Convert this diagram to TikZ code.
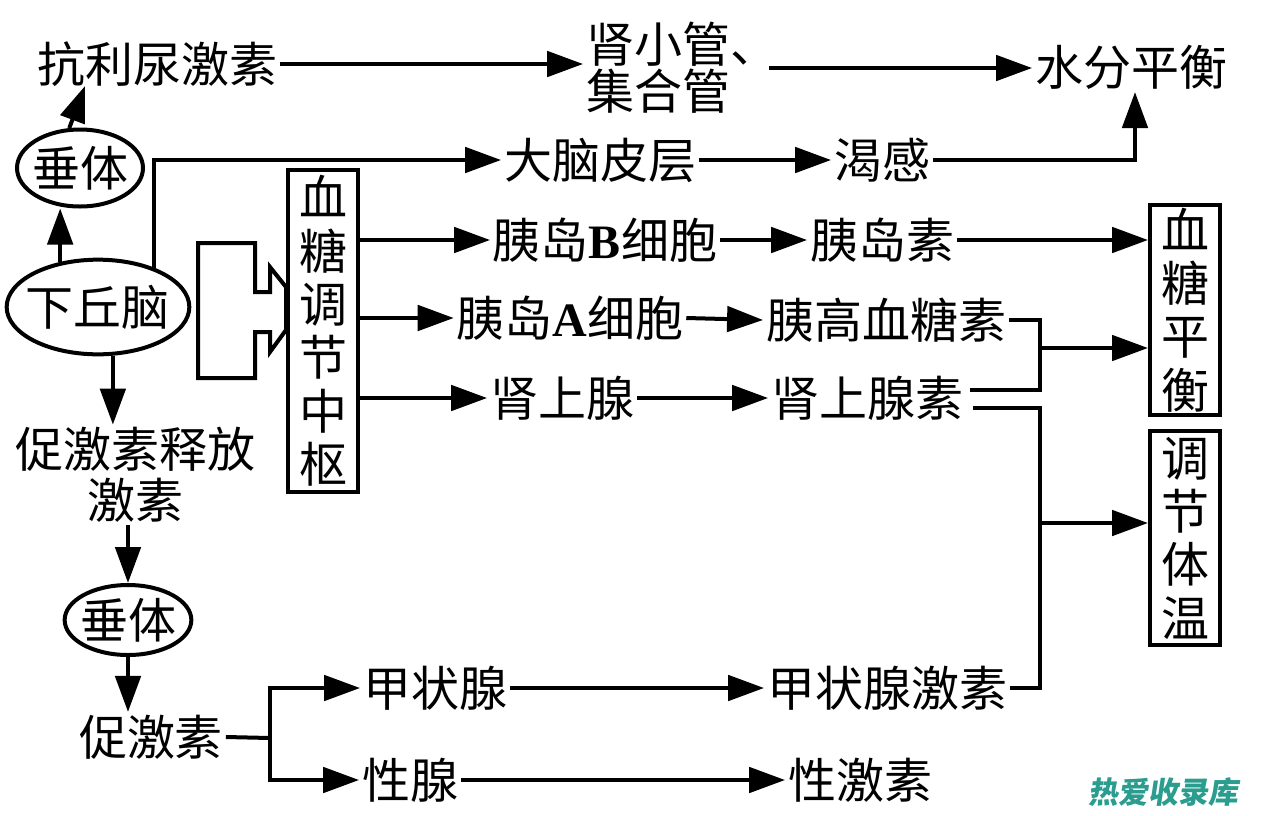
\documentclass[tikz,border=0pt]{standalone}
\usepackage{fontspec}
\setmainfont{Noto Sans CJK SC}
\newfontfamily\latb{Liberation Serif}
\usetikzlibrary{arrows.meta,shapes.geometric,calc}
\definecolor{wm}{HTML}{2A9D8F}
\tikzset{
  lbl/.style={inner sep=2pt, font=\fontsize{36}{42}\selectfont},
  ln/.style={line width=3pt},
  arr/.style={line width=3pt, -{Triangle[length=27pt,width=19pt]}},
  ell/.style={ellipse, draw, line width=3pt, inner sep=0pt},
  vbox/.style={draw, line width=3pt, minimum width=52.5pt, align=center, inner sep=0pt, font=\fontsize{36}{40}\selectfont},
}
\begin{document}
\begin{tikzpicture}[x=0.75pt,y=-0.75pt]
\useasboundingbox[fill=white] (0,0) rectangle (1268,815);
% nodes
\node[lbl] (adh) at (157,64) {抗利尿激素};
\node[lbl, align=left, font=\fontsize{36}{35}\selectfont] (kid) at (682,68) {肾小管、\\集合管};
\node[lbl] (water) at (1131,67) {水分平衡};
\node[ell, minimum width=94.5pt, minimum height=57.75pt] (pit1) at (80,168) {};
\node[lbl] (pit1t) at (pit1) {垂体};
\node[ell, minimum width=137pt, minimum height=71pt] (hyp) at (98,307) {};
\node[lbl] (hypt) at (hyp) {下丘脑};
\node[lbl] (cortex) at (600,160) {大脑皮层};
\node[lbl] (thirst) at (882,160) {渴感};
\node[vbox, minimum height=241.5pt] (ctr) at (323,331) {血\\糖\\调\\节\\中\\枢};
\node[lbl] (bcell) at (605,240) {胰岛{\latb\bfseries B}细胞};
\node[lbl] (insulin) at (882,240) {胰岛素};
\node[lbl] (acell) at (570,318) {胰岛{\latb\bfseries A}细胞};
\node[lbl] (glucagon) at (886,320) {胰高血糖素};
\node[lbl] (adrenal) at (562,398) {肾上腺};
\node[lbl] (epi) at (867,398) {肾上腺素};
\node[vbox, minimum height=157.5pt] (bg) at (1185,310) {血\\糖\\平\\衡};
\node[vbox, minimum height=160pt] (temp) at (1185,538) {调\\节\\体\\温};
\node[lbl, align=center, font=\fontsize{36}{38}\selectfont] (trh) at (136,475) {促激素释放\\激素};
\node[ell, minimum width=95pt, minimum height=52.5pt] (pit2) at (128,620) {};
\node[lbl] (pit2t) at (pit2) {垂体};
\node[lbl] (th) at (151,737) {促激素};
\node[lbl] (thy) at (435,688) {甲状腺};
\node[lbl] (thyh) at (887,688) {甲状腺激素};
\node[lbl] (gon) at (410,780) {性腺};
\node[lbl] (sexh) at (860,780) {性激素};
\node[inner sep=0pt, text=wm, font=\fontsize{22.5}{26}\selectfont\bfseries, xslant=0.15] (wmk) at (1165,792) {热爱收录库};
% block arrow into the centre box
\draw[ln, line join=miter] (255,243) -- (198,243) -- (198,378) -- (255,378) -- (255,332) -- (270,332) -- (270,352) -- (ctr.west |- 0,330)
  -- (ctr.west |- 0,287) -- (270,267) -- (270,292) -- (255,292) -- cycle;
% connectors
\draw[arr] (adh.east) -- (adh.east -| kid.west);
\coordinate (kidout) at ($(kid.east)+(-12,0)$);
\draw[arr] (kidout) -- (kidout -| water.west);
\coordinate (adhin) at (85,86);
\draw[arr] (pit1.105) -- (adhin);
\draw[arr] (hyp.130) -- (hyp.130 |- pit1.south);
\draw[arr] (hyp.35) |- (cortex.west);
\draw[arr] (cortex.east) -- (thirst.west);
\draw[arr] (thirst.east) -| ($(water.south)+(4,0)$);
\draw[arr] (ctr.east |- bcell.west) -- (bcell.west);
\draw[arr] (bcell.east) -- (insulin.west);
\draw[arr] (insulin.east) -- (insulin.east -| bg.west);
\draw[arr] (ctr.east |- acell.west) -- (acell.west);
\draw[arr] (acell.east) -- (glucagon.west);
\draw[arr] (ctr.east |- adrenal.west) -- (adrenal.west);
\draw[arr] (adrenal.east) -- (epi.west);
\coordinate (j1) at (1040,348);
\coordinate (epiA) at ($(epi.east)+(4,-8)$);
\coordinate (epiB) at ($(epi.east)+(7,10)$);
\draw[ln] (glucagon.east) -| (j1) |- (epiA);
\draw[arr] (j1) -- (j1 -| bg.west);
\coordinate (j2) at (1040,523);
\draw[ln] (epiB) -| (j2) |- (thyh.east);
\draw[arr] (j2) -- (j2 -| temp.west);
\draw[arr] (hyp.-73) -- (hyp.-73 |- trh.north);
\draw[arr] (pit2.north |- trh.south) -- (pit2.north);
\draw[arr] (pit2.south) -- (pit2.south |- th.north);
\coordinate (j3) at (270,738);
\draw[ln] (th.east) -- (j3);
\draw[arr] (j3) |- (thy.west);
\draw[arr] (j3) |- (gon.west);
\draw[arr] (thy.east) -- (thyh.west);
\draw[arr] (gon.east) -- (sexh.west);
\end{tikzpicture}
\end{document}
